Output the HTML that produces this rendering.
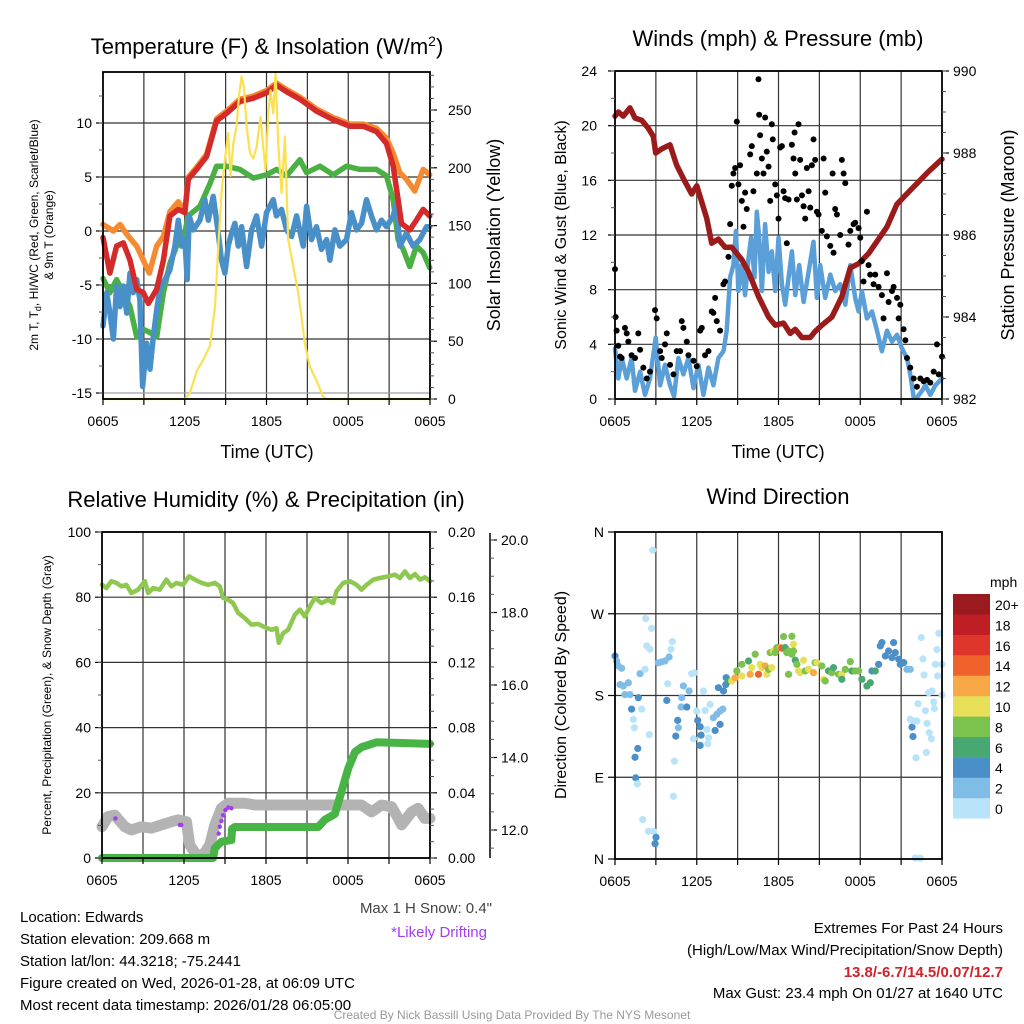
<!DOCTYPE html>
<html><head><meta charset="utf-8"><style>
html,body{margin:0;padding:0;background:#fff;}
svg{display:block;font-family:"Liberation Sans",Arial,sans-serif;}
</style></head><body>
<svg id="chart" width="1024" height="1024" viewBox="0 0 1024 1024" xmlns="http://www.w3.org/2000/svg">
<rect x="0" y="0" width="1024" height="1024" fill="#fff"/>
<g id="layer-bg"></g>
<g id="layer-data"></g>
<g id="layer-fg"></g>
<text x="267" y="54" font-size="22" text-anchor="middle">Temperature (F) &amp; Insolation (W/m<tspan dy="-8" font-size="14">2</tspan><tspan dy="8">)</tspan></text>
<text x="778" y="46" font-size="22" text-anchor="middle">Winds (mph) &amp; Pressure (mb)</text>
<text x="266" y="507" font-size="22" text-anchor="middle">Relative Humidity (%) &amp; Precipitation (in)</text>
<text x="778" y="504" font-size="22" text-anchor="middle">Wind Direction</text>
<text x="267" y="458" font-size="18" text-anchor="middle">Time (UTC)</text>
<text x="778" y="458" font-size="18" text-anchor="middle">Time (UTC)</text>
<text transform="translate(38,235) rotate(-90)" font-size="12" text-anchor="middle">2m T, T<tspan dy="3" font-size="9">d</tspan><tspan dy="-3">, HI/WC (Red, Green, Scarlet/Blue)</tspan></text>
<text transform="translate(53,235) rotate(-90)" font-size="12" text-anchor="middle">&amp; 9m T (Orange)</text>
<text transform="translate(500,235) rotate(-90)" font-size="18" text-anchor="middle">Solar Insolation (Yellow)</text>
<text transform="translate(566,235) rotate(-90)" font-size="16" text-anchor="middle">Sonic Wind &amp; Gust (Blue, Black)</text>
<text transform="translate(1014,235) rotate(-90)" font-size="18" text-anchor="middle">Station Pressure (Maroon)</text>
<text transform="translate(51,695) rotate(-90)" font-size="12" text-anchor="middle">Percent, Precipitation (Green), &amp; Snow Depth (Gray)</text>
<text transform="translate(566,695) rotate(-90)" font-size="16" text-anchor="middle">Direction (Colored By Speed)</text>
<text x="990" y="587" font-size="14">mph</text>
<text x="492" y="913" font-size="15" fill="#444" text-anchor="end">Max 1 H Snow: 0.4"</text>
<text x="487" y="937" font-size="15" fill="#a43cf0" text-anchor="end">*Likely Drifting</text>
<g font-size="15">
<text x="20" y="922">Location: Edwards</text>
<text x="20" y="944">Station elevation: 209.668 m</text>
<text x="20" y="966">Station lat/lon: 44.3218; -75.2441</text>
<text x="20" y="988">Figure created on Wed, 2026-01-28, at 06:09 UTC</text>
<text x="20" y="1010">Most recent data timestamp: 2026/01/28 06:05:00</text>
</g>
<g font-size="15" text-anchor="end">
<text x="1003" y="933">Extremes For Past 24 Hours</text>
<text x="1003" y="955">(High/Low/Max Wind/Precipitation/Snow Depth)</text>
<text x="1003" y="977" fill="#d0222a" font-weight="bold">13.8/-6.7/14.5/0.07/12.7</text>
<text x="1003" y="998">Max Gust: 23.4 mph On 01/27 at 1640 UTC</text>
</g>
<text x="512" y="1019" font-size="12" fill="#999" text-anchor="middle">Created By Nick Bassill Using Data Provided By The NYS Mesonet</text>
</svg>
<script>
// ---------- data ----------
const timeTickLabels = ["0605","1205","1805","0005","0605"];
const tempTicks = [-15,-10,-5,0,5,10];
const solarTicks = [0,50,100,150,200,250];
const windTicks = [0,4,8,12,16,20,24];
const pressTicks = [982,984,986,988,990];
const rhTicks = [0,20,40,60,80,100];
const precipTicks = [0,0.04,0.08,0.12,0.16,0.20];
const snowTicks = [12,14,16,18,20];
const dirTickLabels = ["N","E","S","W","N"];
const speedBinLabels = ["0","2","4","6","8","10","12","14","16","18","20+"];
const speedBinColors = ["#b9e3f8","#7fbce6","#4a8fc8","#48a872","#7cc24e","#e8df58","#f8a846","#f0622b","#e0352a","#c01e25","#9a1a1e"];

const redHours = [0,0.51,1.0,1.49,1.98,2.47,2.96,3.33,3.94,4.43,4.91,5.53,6.01,6.26,6.87,7.6,8.34,9.07,10.05,11.03,12.0,12.74,13.47,14.45,15.67,16.9,18.12,19.1,20.07,20.81,21.3,21.66,21.91,22.52,23.0,23.5,23.98];
const redTemp = [-0.6,-3.9,-1.4,-1.1,-2.7,-5.4,-5.7,-6.7,-5.4,-2.7,1.4,2.0,1.7,4.8,5.7,6.9,10.2,10.9,12.0,12.3,12.8,13.5,12.9,12.2,11.1,10.3,9.7,9.7,9.2,8.1,6.0,2.9,0.7,0.1,1.0,2.0,1.4];
const orangeHours = [0,0.76,1.25,1.74,2.47,2.96,3.4,3.94,4.43,4.91,5.53,6.01,6.26,6.87,7.6,8.34,9.07,10.05,11.03,12.0,12.74,13.47,14.45,15.67,16.9,18.12,19.1,20.07,20.81,21.3,21.78,22.27,22.88,23.5,23.98];
const orangeTemp = [0.6,0,0.6,-0.3,-1.4,-2.7,-3.9,-1.4,-0.5,1.8,2.7,1.9,5.0,5.9,7.1,10.4,11.1,12.2,12.5,13.0,13.7,13.1,12.4,11.3,10.5,9.9,9.9,9.5,8.6,7.2,5.4,4.8,3.7,5.7,5.2];
const greenHours = [0,0.51,1.0,1.49,1.98,2.47,2.96,3.45,3.94,4.43,4.91,5.4,5.89,6.26,7.11,7.85,8.34,9.07,10.05,11.03,12.0,12.74,13.47,14.45,14.94,15.92,16.9,17.87,18.85,20.07,20.81,21.3,21.66,22.03,22.52,23.0,23.5,23.98];
const greenTemp = [-4.4,-5.7,-4.5,-5.7,-7.0,-9.8,-9.1,-9.4,-9.8,-5.7,-3.0,-1.4,-0.8,1.4,2.3,4.4,6.0,6.0,5.7,4.9,5.2,5.7,5.1,6.6,5.4,6.0,5.2,6.0,5.7,5.7,5.1,2.9,-0.8,-1.7,-3.3,-1.4,-2.0,-3.4];
const blueHours = [0,0.27,0.51,0.76,1.0,1.25,1.49,1.74,1.98,2.22,2.47,2.71,2.91,3.2,3.45,3.69,3.94,4.18,4.55,4.91,5.28,5.53,5.77,6.01,6.18,6.33,6.63,7.11,7.48,7.73,8.09,8.46,8.7,8.95,9.19,9.44,9.68,9.93,10.17,10.54,10.9,11.27,11.64,12.0,12.49,12.73,13.1,13.47,13.84,14.21,14.69,14.94,15.3,15.67,16.04,16.41,16.65,17.02,17.38,17.87,18.24,18.61,18.97,19.34,19.71,20.07,20.44,20.81,21.3,21.54,21.78,22.27,22.76,23.25,23.74,23.98];
const blueTemp = [-8.8,-5.7,-7.6,-10.0,-5.1,-7.0,-5.1,-7.6,-3.9,-5.7,-4.5,-6.4,-14.4,-10.4,-12.8,-9.8,-7.3,-5.4,-4.5,-3.6,-1.4,1.0,-1.4,-0.8,-4.5,1.4,0.1,1.0,2.9,1.0,3.2,-0.2,-2.7,-3.9,-1.4,-0.2,0.7,-1.4,0.4,-3.3,0.1,1.4,-1.4,1.7,2.9,1.4,2.0,0.1,-0.5,1.4,-1.4,2.3,-0.8,0.4,-1.7,-0.8,-2.7,0.1,-1.4,-0.8,1.7,0.1,0.7,2.9,1.4,0.1,1.0,0.4,1.4,2.6,-1.4,-0.2,-1.4,-0.8,0.4,0.4];
const solarHours = [0,6.01,6.38,6.87,7.36,7.85,8.22,8.46,8.7,8.95,9.19,9.36,9.56,9.8,10.0,10.17,10.34,10.54,10.78,11.03,11.27,11.56,11.76,11.93,12.13,12.3,12.49,12.67,12.86,13.1,13.35,13.59,13.96,14.33,14.57,14.82,15.18,15.67,16.16,16.41,23.98];
const solarValues = [0,0,5,24,34,46,80,132,178,207,230,193,221,236,265,279,270,236,213,208,218,244,218,198,247,267,247,282,221,178,227,138,115,92,71,48,28,16,2,0,0];

const windHours = [0,0.24,0.49,0.86,1.22,1.47,1.84,2.2,2.57,2.99,3.31,3.67,4.04,4.34,4.65,5.02,5.39,5.76,6.12,6.49,6.86,7.22,7.59,7.96,8.2,8.45,8.69,8.87,9.06,9.31,9.55,9.8,9.99,10.24,10.41,10.58,10.78,11.02,11.27,11.51,11.76,12.0,12.25,12.49,12.74,12.98,13.23,13.52,13.84,14.21,14.57,14.82,15.06,15.43,15.8,16.16,16.53,16.9,17.27,17.63,17.88,18.12,18.49,18.86,19.23,19.59,19.96,20.33,20.7,21.06,21.43,21.67,21.92,22.16,22.53,22.78,23.14,23.51,24];
const windSpeed = [3.7,1.5,3.0,1.5,3.0,0.6,2.0,0.3,1.5,4.5,1.0,2.5,1.0,0.2,3.0,1.8,3.0,0.8,2.5,0.3,2.3,1.0,3.0,3.5,5.0,8.9,9.8,12.3,7.9,9.8,7.6,10.3,11.8,8.9,13.7,11.8,7.9,12.8,9.3,10.8,7.9,11.8,8.4,6.9,8.9,10.8,7.6,9.8,7.1,9.3,11.5,7.4,9.8,7.4,9.1,7.9,8.4,6.9,9.8,7.4,6.4,7.9,5.9,6.4,5.0,3.5,5.0,4.2,4.7,3.7,3.0,1.8,0.1,0.1,0.6,1.0,0.3,1.0,1.5];
const gustHours = [0,0.05,0.12,0.24,0.37,0.49,0.73,0.86,0.98,1.22,1.47,1.71,1.84,2.08,2.33,2.57,2.94,3.06,3.31,3.43,3.67,3.8,4.04,4.29,4.53,4.78,4.9,5.02,5.27,5.39,5.76,6.0,6.25,6.37,6.61,6.86,7.1,7.22,7.35,7.47,7.71,7.96,8.08,8.33,8.45,8.57,8.69,8.82,8.94,9.06,9.18,9.31,9.43,9.55,9.67,9.92,10.04,10.16,10.41,10.53,10.58,10.65,10.78,10.9,11.02,11.14,11.27,11.39,11.51,11.58,11.76,11.88,12.0,12.12,12.25,12.37,12.49,12.61,12.74,12.98,13.1,13.18,13.23,13.35,13.47,13.59,13.72,13.84,13.96,14.08,14.21,14.33,14.45,14.57,14.69,14.82,14.94,15.18,15.31,15.43,15.55,15.8,15.97,16.04,16.16,16.29,16.53,16.65,16.78,16.9,17.14,17.27,17.51,17.63,17.88,18.0,18.12,18.24,18.49,18.61,18.73,18.98,19.1,19.35,19.59,19.71,19.96,20.08,20.33,20.45,20.7,20.82,20.94,21.18,21.31,21.43,21.67,21.92,22.16,22.41,22.65,22.9,23.14,23.39,23.63,23.76,24];
const gustSpeed = [9.5,6.0,5.0,3.9,3.1,3.0,5.2,4.8,4.2,3.2,3.0,4.8,3.6,2.3,1.5,2.0,6.5,5.9,3.5,3.0,4.0,4.8,2.5,1.8,3.5,3.5,5.7,5.2,4.2,3.2,2.8,2.4,5.0,5.2,3.2,3.5,6.4,6.3,7.4,5.7,5.0,8.4,8.6,10.4,12.8,15.6,16.5,16.9,20.3,15.7,17.1,14.5,12.6,15.1,13.9,17.9,18.5,15.2,16.5,23.4,20.8,19.3,17.6,16.5,20.6,18.1,17.0,14.5,20.1,19.0,15.7,14.9,13.2,18.4,18.5,15.2,14.7,11.4,14.6,18.6,17.6,19.5,16.5,14.6,20.1,17.5,14.9,14.1,13.2,16.9,15.2,14.0,17.1,19.0,17.5,13.7,13.5,12.3,17.6,15.1,11.9,11.2,16.5,10.7,13.9,13.5,12.0,17.5,16.5,15.8,11.3,12.3,12.8,12.9,12.5,11.8,10.1,8.6,13.7,9.8,9.1,8.4,9.1,8.2,7.6,5.9,9.2,7.1,7.9,8.2,7.4,5.9,6.9,5.1,4.3,3.0,2.3,1.5,0.9,1.5,1.3,1.4,1.2,2.0,4.0,1.8,3.1];
const pressHours = [0,0.24,0.61,1.1,1.47,1.96,2.45,2.82,2.99,3.43,4.04,4.53,5.14,5.63,6.0,6.37,6.74,7.1,7.59,8.08,8.57,9.31,9.8,10.53,11.27,11.76,12.37,12.86,13.23,13.72,14.33,14.69,15.18,15.92,16.65,17.27,17.88,18.61,19.35,19.96,20.69,21.55,22.29,23.02,23.51,24];
const pressValues = [988.9,989.0,988.9,989.1,988.85,988.8,988.6,988.4,988.0,988.1,988.2,987.7,987.3,987.0,987.2,986.8,986.4,985.8,985.9,985.7,985.7,985.4,985.1,984.5,984.0,983.8,983.85,983.6,983.7,983.5,983.5,983.65,983.8,984.0,984.5,985.2,985.3,985.55,985.9,986.2,986.75,987.05,987.3,987.55,987.7,987.85];

const rhHours = [0,0.32,0.68,1.05,1.42,1.78,2.15,2.64,3.13,3.37,3.74,4.22,4.71,5.08,5.44,5.93,6.37,6.79,7.28,7.76,8.25,8.62,8.86,9.23,9.59,9.96,10.45,10.94,11.43,11.91,12.4,12.77,12.94,13.26,13.62,14.11,14.48,14.84,15.21,15.58,16.06,16.55,16.92,17.16,17.65,18.14,18.63,18.99,19.36,19.85,20.34,20.95,21.44,21.8,22.17,22.53,22.9,23.27,23.63,24];
const rhValues = [83.8,82.8,84.9,84.4,83.3,83.8,81.3,82.3,84.9,81.3,82.8,82.3,85.4,83.3,84.4,83.8,86.4,85.4,84.4,83.8,84.4,83.3,79.8,79.2,78.2,75.2,73.6,71.6,71.8,70.8,70.0,70.5,66.0,69.0,70.0,74.6,76.2,74.1,77.2,79.8,78.2,79.2,78.2,81.8,84.4,84.9,83.8,82.3,83.8,85.4,85.9,86.4,86.9,85.9,87.9,85.9,87.1,85.4,86.1,84.9];
const precipHours = [0,8.13,8.25,8.74,9.47,9.52,9.72,15.82,16.31,17.04,17.53,18.02,18.51,18.99,19.73,20.09,24];
const precipValues = [0,0,0.006,0.01,0.011,0.018,0.019,0.019,0.0235,0.027,0.041,0.055,0.065,0.068,0.07,0.071,0.07];
const snowHours = [0,0.44,0.93,1.66,2.15,2.88,3.61,4.35,5.08,5.57,6.18,6.42,6.91,7.4,7.89,8.25,8.74,9.23,10.45,11.18,14.11,16.55,18.99,19.73,20.46,21.19,21.68,21.92,22.66,23.14,23.63,24];
const snowDepth = [12.09,12.37,12.41,12.09,12.0,12.09,12.05,12.14,12.23,12.28,12.23,11.59,11.31,11.31,11.59,12.14,12.6,12.74,12.74,12.69,12.69,12.69,12.69,12.5,12.69,12.64,12.32,12.14,12.5,12.6,12.32,12.32];
const driftHours = [0.98,5.69,5.8,8.54,8.62,8.74,8.86,9.03,9.23,9.47];
const driftDepth = [12.32,12.14,12.14,11.9,12.09,12.25,12.41,12.55,12.62,12.6];

const dirHours = [0,0.12,0.24,0.49,0.37,0.61,0.73,0.98,1.1,1.22,1.35,1.42,1.71,1.96,1.67,1.47,1.52,1.64,2.03,2.45,2.82,3.01,2.94,2.52,1.84,2.2,2.33,2.57,2.25,2.69,2.77,3.18,3.43,3.67,3.97,4.11,4.21,3.87,3.8,4.36,4.29,4.6,4.46,4.65,4.9,5.02,4.85,5.27,5.44,5.63,5.83,6.0,6.07,5.76,6.25,6.32,6.25,6.49,6.61,6.98,6.86,6.81,6.74,7.22,7.47,7.71,7.91,7.35,7.71,7.59,7.96,8.16,8.13,
8.33,8.57,8.82,8.94,9.31,9.31,9.8,9.92,10.04,10.29,10.53,10.65,10.78,11.02,11.14,11.27,11.51,11.39,11.63,11.76,11.88,12.12,12.25,12.37,12.49,12.61,12.74,12.98,13.1,12.98,13.1,13.23,13.35,12.74,13.47,13.59,13.84,13.96,14.21,14.57,14.69,14.82,15.18,15.31,15.43,15.67,15.92,16.04,16.41,16.65,16.65,16.9,17.27,17.39,17.63,17.88,18.12,18.49,18.74,18.86,19.1,19.35,19.47,19.59,19.84,20.08,20.33,20.45,20.57,20.82,20.94,21.19,21.43,21.67,
21.67,21.8,21.87,21.99,22.09,22.16,22.24,22.48,22.6,22.68,22.78,22.85,22.9,23.02,23.07,23.22,23.27,23.39,23.44,23.51,23.63,23.68,23.76,24,24,22.04,22.41];
const dirDeg = [223.5,218,212.5,210,192,190.5,181,194,181,165,153.7,144.5,177.6,165,121.7,112,89.3,82.7,43.4,30.5,30.5,23.9,16.9,137,204,208.8,234.6,230.9,264.7,254,340,216,217,218,222.4,230.9,239.3,193,174.6,107.7,69.1,152.6,135.3,144.5,177.6,190.5,167.3,167.3,185,204,205,162.9,152.6,132.4,145.6,136.4,125,185,163.6,170.2,133.5,126.8,142.6,155.5,159.2,162.9,165,141.5,148.2,188.6,185,199.6,192,
196,196,199.6,207,201.5,214.3,218,203.3,210.7,225.4,203.3,214.3,210.7,212.5,203.3,208.8,210.7,227.2,229,227.2,232.7,232.7,232,244.9,232.7,227.2,229,245.2,236.4,225.4,229,218.8,214.3,203.3,207,205.1,218.8,207,208.8,205.1,216.2,216.2,212.5,197.8,196,207,205.1,210.7,203.3,203.3,197.8,208.8,217.3,207,207,207,197.8,190.4,194,207,207,214.3,234.6,238.2,223.5,229,221.7,238.2,227.2,219.9,214.3,216.2,208.8,
208.8,153.7,145.2,134.9,151.8,111.4,151.8,171,243.8,220.2,202.6,163.2,117.3,149.3,183.1,139,132.4,185,172.8,165.8,214.3,230.5,201.5,248.5,180.5,214.3,1,1];
const dirSpeed = [5,3,3,3,3,3,3,3,3,5,1,1,5,1,5,5,5,1,1,1,1,5,5,1,3,1,1,1,1,1,1,3,3,3,3,1,1,1,5,1,1,5,5,3,3,3,3,5,3,1,1,1,5,1,5,5,5,1,1,1,1,1,1,3,3,3,3,5,5,5,5,5,5,
7,11,13,9,11,9,7,13,11,9,15,11,11,13,11,9,11,9,11,9,9,13,15,9,7,9,9,9,11,9,9,7,9,9,11,11,11,9,11,13,9,11,9,11,9,7,9,7,9,11,7,9,9,7,9,9,7,7,7,5,7,5,5,5,5,5,5,5,5,5,5,5,3,
3,1,5,5,1,1,1,1,1,1,1,1,1,1,1,1,1,1,1,1,1,1,1,1,1,1,1,1,1];

// ---------- helpers ----------
const NS = "http://www.w3.org/2000/svg";
const bg = document.getElementById("layer-bg");
const dl = document.getElementById("layer-data");
const fg = document.getElementById("layer-fg");
function mk(tag, attrs, parent) {
  const e = document.createElementNS(NS, tag);
  for (const k in attrs) e.setAttribute(k, attrs[k]);
  parent.appendChild(e);
  return e;
}
function linScale(d0, d1, r0, r1) { return v => r0 + (v - d0) / (d1 - d0) * (r1 - r0); }

const panels = [
  {key:"temperature", x0:103, x1:430, y0:72, y1:399},
  {key:"winds", x0:615, x1:942, y0:71, y1:399},
  {key:"humidity", x0:102, x1:430, y0:532, y1:858},
  {key:"direction", x0:615, x1:942, y0:532, y1:859}
];
panels.forEach(p => { p.sx = linScale(0, 24, p.x0, p.x1); });

const tY = linScale(-15, 10, 393, 123);
const sY = linScale(0, 250, 399, 110);
const wY = linScale(0, 24, 399, 71);
const pY = linScale(982, 990, 399, 71);
const rhY = linScale(0, 100, 858, 532);
const prY = linScale(0, 0.2, 858, 532);
const snY = linScale(12, 20, 830, 540);
const dY = linScale(0, 360, 859, 532);

function polyline(xs, ys, sx, sy, color, width, name, parent, op) {
  const pts = xs.map((h, i) => sx(h).toFixed(1) + "," + sy(ys[i]).toFixed(1)).join(" ");
  const e = mk("polyline", {points: pts, fill: "none", stroke: color, "stroke-width": width, "stroke-linejoin": "round", "stroke-linecap": "round"}, parent || dl);
  if (op) e.setAttribute("opacity", op);
  
  
  return e;
}
function label(x, y, txt, anchor, size, name, parent) {
  const e = mk("text", {x: x, y: y, "text-anchor": anchor, "font-size": size}, parent || fg);
  e.textContent = txt;
  
  
  return e;
}

// ---------- frames, grids, time ticks ----------
panels.forEach(p => {
  for (let h = 3; h < 24; h += 3) {
    const g = mk("line", {x1: p.sx(h), x2: p.sx(h), y1: p.y0, y2: p.y1, stroke: "#333", "stroke-width": 1.2}, bg);
    
    
  }
  for (let h = 0; h <= 24; h += 3) {
    const t = mk("line", {x1: p.sx(h), x2: p.sx(h), y1: p.y1, y2: p.y1 + 6, stroke: "#000", "stroke-width": 1.2}, fg);
    
    
  }
  timeTickLabels.forEach((s, i) => {
    label(p.sx(i * 6), p.y1 + 27, s, "middle", 14, p.key + '-x-tick-label');
  });
  const fr = mk("rect", {x: p.x0, y: p.y0, width: p.x1 - p.x0, height: p.y1 - p.y0, fill: "none", stroke: "#000", "stroke-width": 1.8}, fg);
  
  
});

function hGrid(p, vals, sy) {
  vals.forEach(v => {
    const g = mk("line", {x1: p.x0, x2: p.x1, y1: sy(v), y2: sy(v), stroke: "#333", "stroke-width": 1.2}, bg);
    
    
  });
}
function yAxis(x, vals, sy, side, fmt, name, minorStep, lo, hi, labelOff) {
  const dir = side === "left" ? -1 : 1;
  vals.forEach(v => {
    const t = mk("line", {x1: x, x2: x + dir * 7, y1: sy(v), y2: sy(v), stroke: "#000", "stroke-width": 1.2}, fg);
    
    
    label(x + dir * (labelOff || 11), sy(v) + 5, fmt(v), side === "left" ? "end" : "start", 14, name + '-tick-label');
  });
  if (minorStep) {
    for (let v = lo; v <= hi + 1e-9; v += minorStep) {
      const m = mk("line", {x1: x, x2: x + dir * 4, y1: sy(v), y2: sy(v), stroke: "#555", "stroke-width": 1}, fg);
      
      
    }
  }
}
const P1 = panels[0], P2 = panels[1], P3 = panels[2], P4 = panels[3];

hGrid(P1, tempTicks, tY);
yAxis(P1.x0, tempTicks, tY, "left", v => String(v), "temperature-y-axis", 2.5, -15, 12.5);
yAxis(P1.x1, solarTicks, sY, "right", v => String(v), "solar-y-axis", 10, 0, 280, 18);

hGrid(P2, windTicks, wY);
yAxis(P2.x0, windTicks, wY, "left", v => String(v), "wind-y-axis", 2, 0, 24, 18);
yAxis(P2.x1, pressTicks, pY, "right", v => String(v), "pressure-y-axis", 0.5, 982, 990);

hGrid(P3, rhTicks, rhY);
yAxis(P3.x0, rhTicks, rhY, "left", v => String(v), "percent-y-axis", 10, 0, 100);
yAxis(P3.x1, precipTicks, prY, "right", v => v.toFixed(2), "precip-y-axis", 0.01, 0, 0.2, 18);
{
  const ax = mk("line", {x1: 490, x2: 490, y1: 533, y2: 858, stroke: "#000", "stroke-width": 1.5}, fg);
  
  
  yAxis(490, snowTicks, snY, "right", v => v.toFixed(1), "snow-depth-y-axis", 0.5, 11.5, 20);
}

const dirVals = [0, 90, 180, 270, 360];
hGrid(P4, dirVals.slice(1, 4), dY);
yAxis(P4.x0, dirVals, dY, "left", (v) => dirTickLabels[dirVals.indexOf(v)], "direction-y-axis", 0, 0, 0);

// ---------- series: panel 1 ----------
{
  const lt = mk("line", {x1: P1.x0, x2: P1.x1, y1: 393, y2: 393, stroke: "#bbb", "stroke-width": 1}, bg);
  
  
}
polyline(orangeHours, orangeTemp, P1.sx, tY, "#f58a30", 5.5, "temp-9m-line");
polyline(greenHours, greenTemp, P1.sx, tY, "#4ab043", 5.5, "dewpoint-line");
polyline(blueHours, blueTemp, P1.sx, tY, "#4a90c8", 5.5, "windchill-line");
polyline(redHours, redTemp, P1.sx, tY, "#d42a2a", 5.5, "temp-2m-line");
polyline(solarHours, solarValues, P1.sx, sY, "#fbe152", 2.2, "solar-insolation-line");

// ---------- series: panel 2 ----------
polyline(windHours, windSpeed, P2.sx, wY, "#5a9fd8", 4.5, "sonic-wind-line");
polyline(pressHours, pressValues, P2.sx, pY, "#9b1b1b", 5.5, "pressure-line");
gustHours.forEach((h, i) => {
  const c = mk("circle", {cx: P2.sx(h), cy: wY(gustSpeed[i]), r: 3, fill: "#000"}, dl);
  
  
});

// ---------- series: panel 3 ----------
polyline(snowHours, snowDepth, P3.sx, snY, "#b3b3b3", 11, "snow-depth-line");
polyline(rhHours, rhValues, P3.sx, rhY, "#8fc850", 4.5, "relative-humidity-line");
polyline(precipHours, precipValues, P3.sx, prY, "#48b445", 8, "precipitation-line");
driftHours.forEach((h, i) => {
  const c = mk("circle", {cx: P3.sx(h), cy: snY(driftDepth[i]), r: 2.2, fill: "#a43cf0"}, dl);
  
  
});

// ---------- series: panel 4 ----------
dirHours.forEach((h, i) => {
  const bin = Math.min(10, Math.floor(dirSpeed[i] / 2));
  const c = mk("circle", {cx: P4.sx(h), cy: dY(dirDeg[i]), r: 3.6, fill: speedBinColors[bin]}, dl);
  
  
});

// ---------- colorbar ----------
speedBinColors.forEach((col, i) => {
  const k = speedBinColors.length - 1 - i;
  const y = 594 + k * 20.4;
  const r = mk("rect", {x: 953, y: y, width: 37, height: 20.6, fill: col}, fg);
  
  
  label(995, y + 16, speedBinLabels[i], "start", 14, 'colorbar-label');
});
</script>
</body></html>
